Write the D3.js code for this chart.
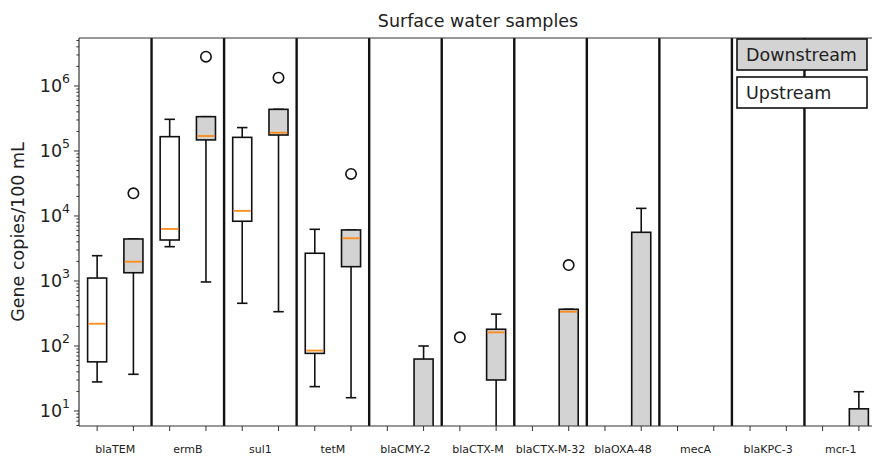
<!DOCTYPE html>
<html lang="en">
<head>
<meta charset="UTF-8">
<title>Surface water samples</title>
<style>
  body { margin: 0; background: #ffffff; font-family: "DejaVu Sans", sans-serif; }
  svg { display: block; }
  .box { stroke: #111; stroke-width: 1.6px; }
  .whisker { stroke: #111; stroke-width: 1.6px; }
  .median { stroke: #ff8c1a; stroke-width: 1.8px; }
  .flier { fill: none; stroke: #111; stroke-width: 1.6px; }
  .sep { stroke: #111; stroke-width: 2.4px; }
</style>
</head>
<body>
<div id="chart"></div>
<script src="https://d3js.org/d3.v7.min.js"></script>
<script>
// genes on the x axis
const genes = ["blaTEM", "ermB", "sul1", "tetM", "blaCMY-2", "blaCTX-M",
               "blaCTX-M-32", "blaOXA-48", "mecA", "blaKPC-3", "mcr-1"];

// upstream box stats (0 = below detection / off the log axis)
const upLow      = [28,   3370,   454,    23.7, 0, 0,   0, 0, 0, 0, 0];
const upQ1       = [57,   4270,   8300,   77,   0, 0,   0, 0, 0, 0, 0];
const upMedian   = [220,  6310,   12000,  85,   0, 0,   0, 0, 0, 0, 0];
const upQ3       = [1110, 166000, 162000, 2670, 0, 0,   0, 0, 0, 0, 0];
const upHigh     = [2450, 307000, 229000, 6240, 0, 0,   0, 0, 0, 0, 0];
const upOutliers = [[], [], [], [], [], [136], [], [], [], [], []];

// downstream box stats
const downLow      = [36.7, 966,    337,    16,   0,   0,   0,   0,     0, 0, 0];
const downQ1       = [1340, 148000, 176000, 1660, 0,   30,  0,   0,     0, 0, 0];
const downMedian   = [1980, 170000, 191000, 4540, 0,   162, 337, 0,     0, 0, 0];
const downQ3       = [4430, 337000, 437000, 6100, 63,  181, 367, 5610,  0, 0, 10.8];
const downHigh     = [4430, 337000, 437000, 6100, 100, 309, 367, 13100, 0, 0, 19.8];
const downOutliers = [[22300], [2820000], [1340000], [44300], [], [], [1760], [], [], [], []];

const seriesNames = ["Downstream", "Upstream"];

const width = 872, height = 456;
const margin = {top: 38, right: -5, bottom: 30, left: 79};
const innerW = width - margin.left - margin.right;
const innerH = height - margin.top - margin.bottom;

const svg = d3.select("#chart").append("svg")
  .attr("width", width).attr("height", height);

const g = svg.append("g").attr("transform", `translate(${margin.left},${margin.top})`);

const x = d3.scaleBand().domain(genes).range([0, innerW]);
const pos = d3.scalePoint().domain(["up", "down"]).range([0.25, 0.75]);
const y = d3.scaleLog().domain([5.877, 5.47e6]).range([innerH, 0]);
const yv = v => v > 0 ? y(v) : innerH + 40;

const boxW = x.bandwidth() * 0.25 * 1.05;
const capW = boxW * 0.55;

g.append("clipPath").attr("id", "clip")
  .append("rect").attr("width", innerW).attr("height", innerH);

const plot = g.append("g").attr("clip-path", "url(#clip)");

function series(key, low, q1, med, q3, high, outl, fill) {
  return genes.map((gname, i) => ({
    gene: gname, key, fill,
    low: low[i], q1: q1[i], med: med[i], q3: q3[i], high: high[i], outl: outl[i]
  }));
}
const rows = series("up", upLow, upQ1, upMedian, upQ3, upHigh, upOutliers, "#ffffff")
  .concat(series("down", downLow, downQ1, downMedian, downQ3, downHigh, downOutliers, "#d3d3d3"));

const cx = d => x(d.gene) + x.bandwidth() * pos(d.key);

const bx = plot.selectAll(".bp").data(rows).enter().append("g").attr("class", "bp");

// whiskers
bx.append("line").attr("class", "whisker")
  .attr("x1", cx).attr("x2", cx)
  .attr("y1", d => yv(d.q3)).attr("y2", d => yv(d.high));
bx.append("line").attr("class", "whisker")
  .attr("x1", cx).attr("x2", cx)
  .attr("y1", d => yv(d.q1)).attr("y2", d => yv(d.low));
// caps
bx.append("line").attr("class", "whisker")
  .attr("x1", d => cx(d) - capW / 2).attr("x2", d => cx(d) + capW / 2)
  .attr("y1", d => yv(d.high)).attr("y2", d => yv(d.high));
bx.append("line").attr("class", "whisker")
  .attr("x1", d => cx(d) - capW / 2).attr("x2", d => cx(d) + capW / 2)
  .attr("y1", d => yv(d.low)).attr("y2", d => yv(d.low));
// box
bx.append("rect").attr("class", "box")
  .attr("x", d => cx(d) - boxW / 2).attr("width", boxW)
  .attr("y", d => yv(d.q3)).attr("height", d => Math.max(0, yv(d.q1) - yv(d.q3)))
  .attr("fill", d => d.fill);
// median
bx.append("line").attr("class", "median")
  .attr("x1", d => cx(d) - boxW / 2 + 0.8).attr("x2", d => cx(d) + boxW / 2 - 0.8)
  .attr("y1", d => yv(d.med)).attr("y2", d => yv(d.med));
// outliers
bx.selectAll("circle").data(d => d.outl.map(v => ({v, d}))).enter().append("circle")
  .attr("class", "flier")
  .attr("cx", o => cx(o.d)).attr("cy", o => y(o.v)).attr("r", 5.2);

// group separators
g.selectAll(".sep").data(genes.slice(1)).enter().append("line").attr("class", "sep")
  .attr("x1", d => x(d)).attr("x2", d => x(d))
  .attr("y1", 0).attr("y2", innerH);

// spines
g.append("line").attr("x1", 0).attr("x2", innerW).attr("y1", 0).attr("y2", 0)
  .attr("stroke", "#333").attr("stroke-width", 1.2);
g.append("line").attr("x1", 0).attr("x2", innerW).attr("y1", innerH).attr("y2", innerH)
  .attr("stroke", "#333").attr("stroke-width", 1.2);
g.append("line").attr("x1", 0).attr("x2", 0).attr("y1", 0).attr("y2", innerH)
  .attr("stroke", "#333").attr("stroke-width", 1.2);

// y axis ticks (log, major + minor)
const isMajor = d => Math.abs(Math.log10(d) - Math.round(Math.log10(d))) < 1e-9;
const yTicks = y.ticks();
g.selectAll(".ytick").data(yTicks).enter().append("line")
  .attr("x1", d => isMajor(d) ? -5 : -2.6)
  .attr("x2", 0)
  .attr("y1", d => y(d)).attr("y2", d => y(d))
  .attr("stroke", "#333").attr("stroke-width", 1);

const majors = yTicks.filter(isMajor);
const lab = g.selectAll(".ylab").data(majors).enter().append("text")
  .attr("x", -9).attr("y", d => y(d)).attr("dy", "0.36em")
  .attr("text-anchor", "end").attr("font-size", 17.5).attr("fill", "#222");
lab.append("tspan").text("10");
lab.append("tspan").attr("font-size", 12.5).attr("dy", "-0.75em").text(d => Math.round(Math.log10(d)));

// x ticks at each box position
const tickPos = [];
genes.forEach(gname => ["up", "down"].forEach(k => tickPos.push(x(gname) + x.bandwidth() * pos(k))));
g.selectAll(".xtick").data(tickPos).enter().append("line")
  .attr("x1", d => d).attr("x2", d => d).attr("y1", innerH).attr("y2", innerH + 5)
  .attr("stroke", "#333").attr("stroke-width", 1);

g.selectAll(".xlab").data(genes).enter().append("text")
  .attr("x", d => x(d) + x.bandwidth() / 2).attr("y", innerH + 27)
  .attr("text-anchor", "middle").attr("font-size", 11).attr("fill", "#222")
  .text(d => d);

// y label
svg.append("text")
  .attr("transform", `translate(24,${margin.top + innerH / 2}) rotate(-90)`)
  .attr("text-anchor", "middle").attr("font-size", 17.5).attr("fill", "#222")
  .text("Gene copies/100 mL");

// title
svg.append("text")
  .attr("x", margin.left + innerW / 2).attr("y", 27)
  .attr("text-anchor", "middle").attr("font-size", 17.5).attr("fill", "#222")
  .text("Surface water samples");

// legend
const legend = svg.append("g").attr("transform", "translate(737,39)");
const lg = legend.selectAll("g").data(seriesNames).enter().append("g")
  .attr("transform", (d, i) => `translate(0,${i * 38})`);
lg.append("rect").attr("width", 130).attr("height", 31)
  .attr("fill", d => d === "Downstream" ? "#d3d3d3" : "#ffffff")
  .attr("stroke", "#111").attr("stroke-width", 1.6);
lg.append("text").attr("x", 9).attr("y", 22)
  .attr("font-size", 17.5).attr("fill", "#222").text(d => d);
</script>
</body>
</html>
